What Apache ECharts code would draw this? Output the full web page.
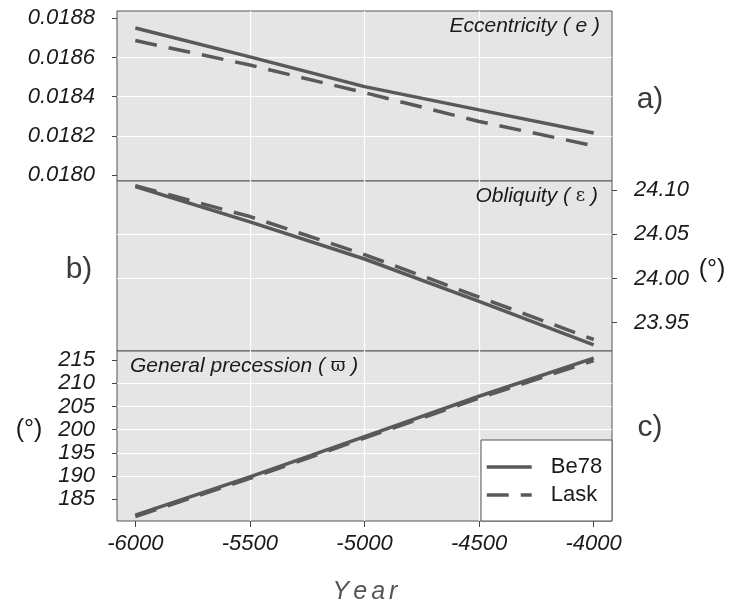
<!DOCTYPE html>
<html><head><meta charset="utf-8">
<script src="https://cdn.jsdelivr.net/npm/echarts@6/dist/echarts.min.js"></script>
<style>html,body{margin:0;padding:0;background:#fff}#c{width:730px;height:607px}</style>
</head><body><div id="c"></div>
<script>
const years = [-6000, -5500, -5000, -4500, -4000];
const xTicks = [-6000, -5500, -5000, -4500, -4000];
const eccBe78 = [0.01875, 0.018603, 0.018451, 0.018332, 0.018214];
const eccLask = [0.018686, 0.018561, 0.01842, 0.018273, 0.018149];
const oblBe78 = [24.104, 24.064, 24.022, 23.974, 23.925];
const oblLask = [24.105, 24.070, 24.027, 23.979, 23.931];
const preBe78 = [181.6, 189.85, 198.5, 207.2, 215.4];
const preLask = [181.3, 189.5, 198.2, 206.8, 214.9];
const eccTicks = [0.0180, 0.0182, 0.0184, 0.0186, 0.0188];
const oblTicks = [23.95, 24.00, 24.05, 24.10];
const preTicks = [185, 190, 195, 200, 205, 210, 215];

const LINE = '#595959';
const FONT = 'Liberation Sans';
const pairs = (arr) => years.map((y, i) => [y, arr[i]]);

const gridBase = { left: 117, right: 118, height: 170, show: true, backgroundColor: '#e5e5e5', borderColor: '#555', borderWidth: 1 };
const grids = [
  Object.assign({ top: 11 }, gridBase),
  Object.assign({ top: 181 }, gridBase),
  Object.assign({ top: 351 }, gridBase)
];

function xAxis(idx, showLabels) {
  return {
    type: 'value', gridIndex: idx, min: -6080, max: -3920,
    axisLine: { show: false },
    axisTick: { show: showLabels, length: 6, customValues: xTicks, lineStyle: { color: '#444' } },
    axisLabel: { show: showLabels, customValues: xTicks, margin: 12, fontFamily: FONT, fontStyle: 'italic', fontSize: 22, color: '#1a1a1a', formatter: v => String(v) },
    splitLine: { show: true, showMinLine: false, showMaxLine: false, lineStyle: { color: '#ffffff', width: 1.2 } }
  };
}
function yAxis(idx, min, max, ticks, pos, split, fmt) {
  return {
    type: 'value', gridIndex: idx, min: min, max: max, position: pos, splitNumber: split,
    axisLine: { show: false },
    axisTick: { show: true, length: 5, customValues: ticks, lineStyle: { color: '#444' } },
    axisLabel: { customValues: ticks, margin: 22, fontFamily: FONT, fontStyle: 'italic', fontSize: 22, color: '#1a1a1a', formatter: fmt },
    splitLine: { show: true, showMinLine: false, showMaxLine: false, lineStyle: { color: '#ffffff', width: 1.2 } }
  };
}

function series(name, data, xi, dashed) {
  return {
    type: 'line', name: name, xAxisIndex: xi, yAxisIndex: xi, data: pairs(data),
    symbol: 'none', showSymbol: false, smooth: false, animation: false,
    itemStyle: { color: LINE },
    lineStyle: { color: LINE, width: 3.5, type: dashed ? [22, 12] : 'solid' }
  };
}

const option = {
  animation: false,
  grid: grids,
  xAxis: [xAxis(0, false), xAxis(1, false), xAxis(2, true)],
  yAxis: [
    yAxis(0, 0.017969, 0.018837, eccTicks, 'left', 5, v => v.toFixed(4)),
    yAxis(1, 23.918, 24.1102, oblTicks, 'right', 4, v => v.toFixed(2)),
    yAxis(2, 180.33, 216.94, preTicks, 'left', 7, v => String(Math.round(v)))
  ],
  legend: {
    data: ['Be78', 'Lask'], orient: 'vertical', left: 485, top: 456, padding: 0,
    itemWidth: 45, itemHeight: 22, itemGap: 6, z: 10,
    itemStyle: { color: 'rgba(0,0,0,0)', borderWidth: 0, opacity: 0 },
    lineStyle: { width: 3.5 },
    textStyle: { fontFamily: FONT, fontSize: 22, color: '#1a1a1a', padding: [0, 0, 0, 14] }
  },
  series: [
    series('Be78', eccBe78, 0, false), series('Lask', eccLask, 0, true),
    series('Be78', oblBe78, 1, false), series('Lask', oblLask, 1, true),
    series('Be78', preBe78, 2, false), series('Lask', preLask, 2, true)
  ],
  graphic: [
    { type: 'rect', z: 5, shape: { x: 481, y: 440, width: 131, height: 81 }, style: { fill: '#ffffff', stroke: '#555', lineWidth: 1 } },
    { type: 'text', z: 6, x: 600, y: 26, style: { text: '{t|Eccentricity ( }{t|e}{t| )}', align: 'right', verticalAlign: 'middle', rich: { t: { fontFamily: FONT, fontStyle: 'italic', fontSize: 21, fill: '#1a1a1a' } } } },
    { type: 'text', z: 6, x: 598, y: 196, style: { text: '{t|Obliquity ( }{s|ε}{t| )}', align: 'right', verticalAlign: 'middle', rich: { t: { fontFamily: FONT, fontStyle: 'italic', fontSize: 21, fill: '#1a1a1a' }, s: { fontFamily: 'DejaVu Serif', fontSize: 18, fill: '#1a1a1a' } } } },
    { type: 'text', z: 6, x: 130, y: 366, style: { text: '{t|General precession ( }{s|ϖ}{t| )}', align: 'left', verticalAlign: 'middle', rich: { t: { fontFamily: FONT, fontStyle: 'italic', fontSize: 21, fill: '#1a1a1a' }, s: { fontFamily: 'DejaVu Serif', fontSize: 18, fill: '#1a1a1a' } } } },
    { type: 'text', z: 6, x: 650, y: 100, style: { text: 'a)', align: 'center', verticalAlign: 'middle', fontFamily: FONT, fontSize: 30, fill: '#3a3a3a' } },
    { type: 'text', z: 6, x: 79, y: 270, style: { text: 'b)', align: 'center', verticalAlign: 'middle', fontFamily: FONT, fontSize: 30, fill: '#3a3a3a' } },
    { type: 'text', z: 6, x: 650, y: 428, style: { text: 'c)', align: 'center', verticalAlign: 'middle', fontFamily: FONT, fontSize: 30, fill: '#3a3a3a' } },
    { type: 'text', z: 6, x: 712, y: 270, style: { text: '(°)', align: 'center', verticalAlign: 'middle', fontFamily: FONT, fontSize: 25, fill: '#1a1a1a' } },
    { type: 'text', z: 6, x: 29, y: 430, style: { text: '(°)', align: 'center', verticalAlign: 'middle', fontFamily: FONT, fontSize: 25, fill: '#1a1a1a' } },
    { type: 'text', z: 6, x: 365, y: 592, style: { text: '{l|Y}{l|e}{l|a}{l|r}', align: 'center', verticalAlign: 'middle', rich: { l: { fontFamily: FONT, fontStyle: 'italic', fontSize: 25, fill: '#555', padding: [0, 2, 0, 2] } } } }
  ]
};

const chart = echarts.init(document.getElementById('c'), null, { renderer: 'canvas' });
chart.setOption(option);
</script>
</body></html>
